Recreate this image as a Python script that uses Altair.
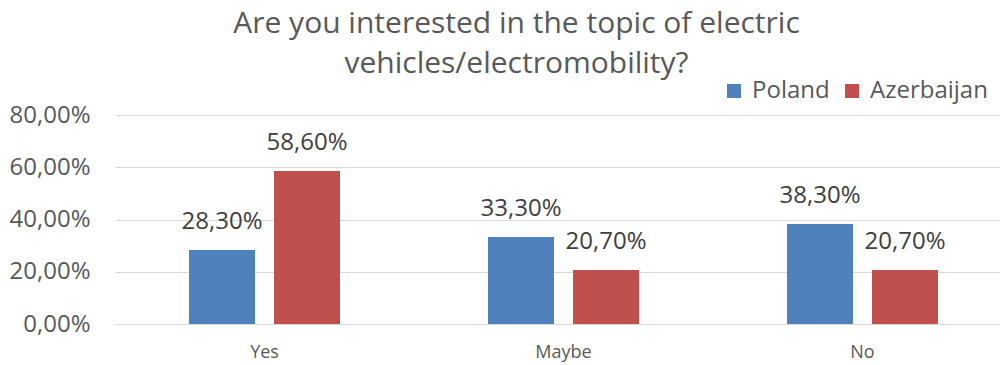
import altair as alt
import pandas as pd

categories = ["Yes", "Maybe", "No"]
countries = ["Poland", "Azerbaijan"]
poland = [0.283, 0.333, 0.383]
azerbaijan = [0.586, 0.207, 0.207]
y_ticks = [0, 0.2, 0.4, 0.6, 0.8]

rows = []
for c, p, a in zip(categories, poland, azerbaijan):
    rows.append({"answer": c, "country": "Poland", "value": p})
    rows.append({"answer": c, "country": "Azerbaijan", "value": a})
df = pd.DataFrame(rows)

FONT = "Open Sans"
colors = ["#4F81BD", "#C0504D"]

x = alt.X("answer:N", sort=categories, title=None,
          scale=alt.Scale(range=[0, 897], paddingInner=0.495, paddingOuter=0.2475),
          axis=alt.Axis(labelAngle=0, labelFont=FONT, labelFontSize=18, labelColor="#595959",
                        domainColor="#d9d9d9", ticks=False, labelPadding=19))
xo = alt.XOffset("country:N", sort=countries,
                 scale=alt.Scale(paddingInner=0.2235, paddingOuter=0))
y = alt.Y("value:Q", title=None,
          scale=alt.Scale(domain=[0, 0.8]),
          axis=alt.Axis(values=y_ticks, labelFont=FONT, labelFontSize=24, labelColor="#595959",
                        gridColor="#d9d9d9", domain=False, ticks=False, labelPadding=25,
                        labelExpr="replace(format(datum.value*100, '.2f'), '.', ',') + '%'"))

bars = alt.Chart(df).mark_bar().encode(
    x=x, xOffset=xo, y=y,
    color=alt.Color("country:N", sort=countries,
                    scale=alt.Scale(domain=countries, range=colors),
                    legend=alt.Legend(title=None, orient="none", direction="horizontal",
                                      legendX=607, legendY=-36, symbolType="square",
                                      symbolSize=196, symbolStrokeWidth=0,
                                      labelFont=FONT, labelFontSize=24, labelColor="#595959",
                                      columnPadding=10, labelOffset=6))
)

labels = alt.Chart(df).transform_calculate(
    lab="replace(format(datum.value*100, '.2f'), '.', ',') + '%'"
).mark_text(font=FONT, fontSize=24, color="#404040", dy=-28).encode(
    x=x, xOffset=xo, y=y, text="lab:N"
)

chart = (bars + labels).properties(
    width=885, height=209,
    title=alt.Title(["Are you interested in the topic of electric", "vehicles/electromobility?"],
                    font=FONT, fontSize=30, fontWeight="normal", color="#595959",
                    lineHeight=40, anchor="middle", dx=-41, offset=0),
    autosize=alt.AutoSizeParams(type="none"),
    padding={"left": 115, "top": 115, "right": 0, "bottom": 41},
).configure_view(stroke=None)

chart.save("out.html", embed_options={"renderer": "svg", "actions": False})
